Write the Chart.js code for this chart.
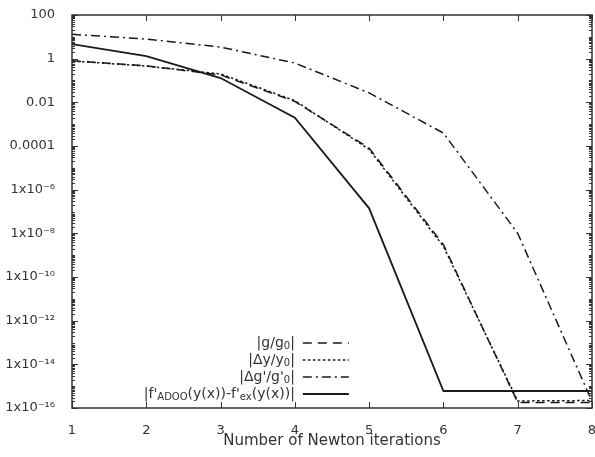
<!DOCTYPE html>
<html>
<head>
<meta charset="utf-8">
<script src="https://cdn.jsdelivr.net/npm/chart.js@4.4.1/dist/chart.umd.min.js"></script>
<style>
  html, body { margin: 0; padding: 0; background: #fff; }
  #wrap { width: 595px; height: 457px; }
</style>
</head>
<body>
<div id="wrap"><canvas id="chart"></canvas></div>
<script>
// data
const iterations = [1, 2, 3, 4, 5, 6, 7, 8];
const gRatio  = [0.8, 0.47, 0.18, 0.011, 8e-5, 3e-9, 1.8e-16, 1.8e-16];
const dyRatio = [0.78, 0.46, 0.2, 0.012, 7e-5, 2.5e-9, 2.1e-16, 2.2e-16];
const dgRatio = [13, 7.9, 3.4, 0.63, 0.027, 3.9e-4, 1e-8, 2e-16];
const fError  = [4.6, 1.3, 0.13, 2e-3, 1.4e-7, 6e-16, 6e-16, 6e-16];

const yTicks = [100, 1, 1e-2, 1e-4, 1e-6, 1e-8, 1e-10, 1e-12, 1e-14, 1e-16];
const yTickLabels = ['100', '1', '0.01', '0.0001', '1x10⁻⁶', '1x10⁻⁸',
                     '1x10⁻¹⁰', '1x10⁻¹²', '1x10⁻¹⁴', '1x10⁻¹⁶'];

// legend labels: pieces, sub = subscript
const legendLabels = [
  [{ t: '|g/g' }, { t: '0', sub: true }, { t: '|' }],
  [{ t: '|Δy/y' }, { t: '0', sub: true }, { t: '|' }],
  [{ t: "|Δg'/g'" }, { t: '0', sub: true }, { t: '|' }],
  [{ t: "|f'" }, { t: 'ADOO', sub: true }, { t: "(y(x))-f'" }, { t: 'ex', sub: true }, { t: '(y(x))|' }]
];

const FONT = '"DejaVu Sans", sans-serif';
const INK = '#1a1a1a';
const TEXT = '#333';

function series(label, values, dash, width) {
  return {
    label: label,
    data: iterations.map((v, i) => ({ x: v, y: values[i] })),
    borderColor: INK,
    backgroundColor: INK,
    borderDash: dash,
    borderWidth: width,
    pointRadius: 0,
    tension: 0,
    fill: false
  };
}

// box + inward ticks like gnuplot
const frame = {
  id: 'frame',
  afterDatasetsDraw(chart) {
    const { ctx, chartArea: a, scales: { x, y } } = chart;
    ctx.save();
    ctx.strokeStyle = '#333';
    ctx.lineWidth = 1;
    ctx.beginPath();
    iterations.forEach(v => {
      const px = Math.round(x.getPixelForValue(v)) + 0.5;
      ctx.moveTo(px, a.bottom); ctx.lineTo(px, a.bottom - 6);
      ctx.moveTo(px, a.top); ctx.lineTo(px, a.top + 6);
    });
    yTicks.forEach(v => {
      const py = Math.round(y.getPixelForValue(v)) + 0.5;
      ctx.moveTo(a.left, py); ctx.lineTo(a.left + 6, py);
      ctx.moveTo(a.right, py); ctx.lineTo(a.right - 6, py);
    });
    for (let e = -16; e < 2; e++) {
      for (let k = 2; k <= 10; k++) {
        const v = k * Math.pow(10, e);
        if (k === 10 && e % 2 === 1) continue;
        const py = Math.round(y.getPixelForValue(v)) + 0.5;
        ctx.moveTo(a.left, py); ctx.lineTo(a.left + 3, py);
        ctx.moveTo(a.right, py); ctx.lineTo(a.right - 3, py);
      }
    }
    ctx.stroke();
    ctx.lineWidth = 1.5;
    ctx.strokeRect(a.left, a.top, a.right - a.left, a.bottom - a.top);
    ctx.restore();
  }
};

function richWidth(ctx, parts) {
  let w = 0;
  parts.forEach(p => {
    ctx.font = (p.sub ? '10px ' : '14px ') + FONT;
    w += ctx.measureText(p.t).width;
  });
  return w;
}

const keyBox = {
  id: 'keyBox',
  afterDraw(chart) {
    const { ctx, chartArea: a, scales: { x } } = chart;
    const right = x.getPixelForValue(4);
    ctx.save();
    ctx.fillStyle = TEXT;
    ctx.textBaseline = 'middle';
    ctx.textAlign = 'left';
    const n = legendLabels.length;
    legendLabels.forEach((parts, i) => {
      const yy = a.bottom - 14 - (n - 1 - i) * 17;
      let xx = right - richWidth(ctx, parts);
      parts.forEach(p => {
        ctx.font = (p.sub ? '10px ' : '14px ') + FONT;
        ctx.fillText(p.t, xx, yy + (p.sub ? 3 : 0));
        xx += ctx.measureText(p.t).width;
      });
      const ds = chart.data.datasets[i];
      ctx.strokeStyle = INK;
      ctx.lineWidth = ds.borderWidth;
      ctx.setLineDash(ds.borderDash || []);
      ctx.beginPath();
      ctx.moveTo(right + 8, yy);
      ctx.lineTo(right + 54, yy);
      ctx.stroke();
      ctx.setLineDash([]);
    });
    ctx.restore();
  }
};

new Chart(document.getElementById('chart'), {
  type: 'line',
  data: {
    datasets: [
      series('|g/g0|', gRatio, [9, 6], 1.5),
      series('|Δy/y0|', dyRatio, [2.5, 2.5], 1.5),
      series("|Δg'/g'0|", dgRatio, [9, 4, 2, 4], 1.5),
      series("|f'ADOO(y(x))-f'ex(y(x))|", fError, [], 1.8)
    ]
  },
  options: {
    responsive: true,
    maintainAspectRatio: false,
    animation: false,
    layout: { padding: { top: 15, right: 3, left: 0, bottom: 0 } },
    plugins: {
      legend: { display: false },
      tooltip: { enabled: false }
    },
    scales: {
      x: {
        type: 'linear',
        min: 1,
        max: 8,
        grid: { display: false },
        border: { display: false },
        ticks: {
          stepSize: 1,
          padding: 7,
          color: TEXT,
          font: { family: FONT, size: 13 },
          maxRotation: 0
        },
        title: {
          display: true,
          text: 'Number of Newton iterations',
          color: TEXT,
          font: { family: FONT, size: 15 },
          padding: { top: 0, bottom: 7 }
        },
        afterFit(scale) {
          scale.height = 49;
          scale.paddingLeft = 0;
          scale.paddingRight = 0;
        }
      },
      y: {
        type: 'logarithmic',
        min: 1e-16,
        max: 100,
        grid: { display: false },
        border: { display: false },
        afterBuildTicks(scale) {
          scale.ticks = yTicks.map(v => ({ value: v, major: true }));
        },
        ticks: {
          padding: 9,
          color: TEXT,
          font: { family: FONT, size: 13 },
          autoSkip: false,
          callback(value) {
            const i = yTicks.indexOf(value);
            return i >= 0 ? yTickLabels[i] : '';
          }
        },
        afterFit(scale) {
          scale.width = 72;
          scale.paddingTop = 0;
          scale.paddingBottom = 0;
        }
      }
    }
  },
  plugins: [frame, keyBox]
});
</script>
</body>
</html>
